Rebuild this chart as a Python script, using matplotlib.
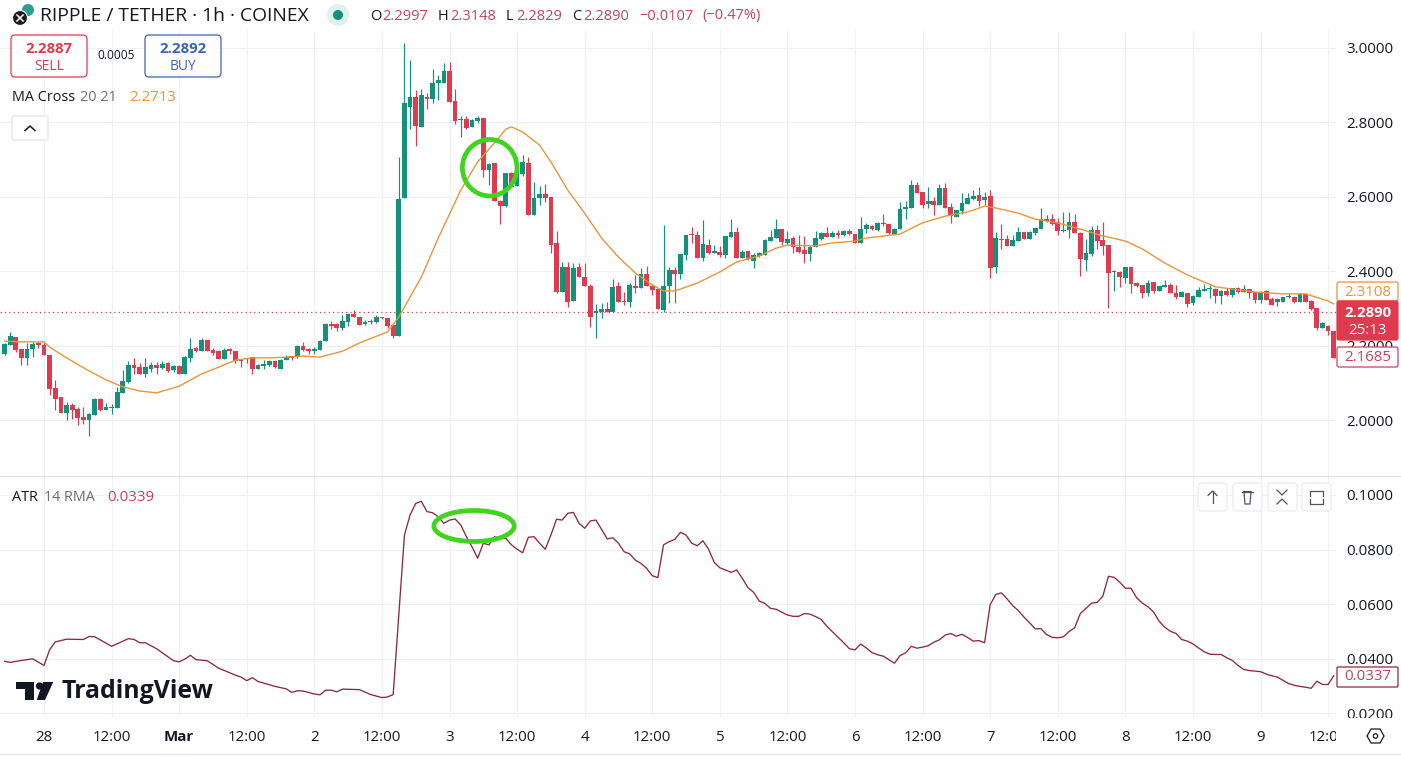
#!/usr/bin/env python3
# XRP/USDT 1h chart with MA and ATR panes, TradingView style
import numpy as np
import matplotlib
matplotlib.use("Agg")
import matplotlib.pyplot as plt
from matplotlib.patches import Circle, Ellipse, FancyBboxPatch, Polygon, Rectangle

plt.rcParams["font.family"] = ["Open Sans", "DejaVu Sans"]

# ---- data ----
# hour 0 is 28 Feb 00:00
first_hour = -7
opens = [
    2.177,2.202,2.222,2.192,2.168,2.192,2.206,2.202,2.175,2.085,
    2.061,2.020,2.040,2.030,2.007,1.999,2.013,2.056,2.027,2.031,
    2.033,2.073,2.101,2.148,2.142,2.125,2.137,2.148,2.139,2.152,
    2.134,2.145,2.124,2.166,2.194,2.186,2.215,2.188,2.186,2.164,
    2.190,2.186,2.161,2.164,2.170,2.137,2.146,2.148,2.159,2.137,
    2.160,2.170,2.170,2.199,2.190,2.186,2.188,2.213,2.258,2.258,
    2.246,2.264,2.285,2.276,2.257,2.264,2.264,2.276,2.273,2.255,
    2.226,2.596,2.842,2.867,2.787,2.867,2.862,2.905,2.907,2.938,
    2.858,2.806,2.809,2.787,2.805,2.811,2.672,2.692,2.590,2.574,
    2.663,2.629,2.661,2.690,2.551,2.596,2.608,2.599,2.475,2.345,
    2.410,2.321,2.410,2.385,2.361,2.287,2.290,2.298,2.291,2.360,
    2.321,2.318,2.361,2.354,2.392,2.360,2.351,2.296,2.360,2.403,
    2.392,2.444,2.499,2.497,2.435,2.470,2.450,2.451,2.444,2.493,
    2.505,2.436,2.454,2.428,2.441,2.444,2.482,2.488,2.513,2.477,
    2.488,2.466,2.457,2.446,2.464,2.487,2.502,2.493,2.504,2.498,
    2.508,2.499,2.475,2.513,2.522,2.511,2.529,2.526,2.501,2.513,
    2.566,2.570,2.632,2.612,2.580,2.590,2.579,2.623,2.572,2.547,
    2.563,2.581,2.594,2.605,2.591,2.602,2.410,2.486,2.486,2.469,
    2.482,2.505,2.486,2.504,2.514,2.536,2.540,2.531,2.508,2.511,
    2.531,2.504,2.430,2.446,2.511,2.484,2.470,2.398,2.398,2.383,
    2.410,2.367,2.363,2.342,2.370,2.348,2.358,2.363,2.342,2.332,
    2.341,2.314,2.332,2.348,2.352,2.352,2.333,2.347,2.335,2.354,
    2.345,2.351,2.345,2.323,2.347,2.325,2.316,2.318,2.330,2.332,
    2.318,2.338,2.320,2.300,2.248,2.254,2.240,
]
highs = [
    2.206,2.237,2.222,2.192,2.206,2.211,2.211,2.206,2.175,2.108,
    2.061,2.049,2.047,2.036,2.036,2.018,2.058,2.058,2.047,2.043,
    2.088,2.134,2.159,2.166,2.152,2.166,2.157,2.157,2.159,2.157,
    2.148,2.148,2.172,2.221,2.197,2.220,2.215,2.193,2.188,2.193,
    2.194,2.186,2.163,2.168,2.170,2.150,2.161,2.161,2.161,2.163,
    2.175,2.172,2.202,2.209,2.194,2.197,2.215,2.262,2.267,2.260,
    2.282,2.287,2.297,2.278,2.269,2.271,2.282,2.278,2.273,2.255,
    2.708,3.013,2.968,2.887,2.889,2.878,2.943,2.927,2.959,2.963,
    2.889,2.817,2.817,2.809,2.817,2.813,2.692,2.692,2.592,2.665,
    2.668,2.680,2.712,2.708,2.641,2.629,2.634,2.599,2.508,2.426,
    2.426,2.421,2.421,2.421,2.366,2.311,2.314,2.318,2.378,2.372,
    2.345,2.369,2.390,2.408,2.414,2.366,2.351,2.524,2.410,2.412,
    2.445,2.497,2.518,2.508,2.538,2.486,2.470,2.468,2.495,2.539,
    2.520,2.457,2.454,2.448,2.452,2.486,2.511,2.539,2.513,2.509,
    2.495,2.497,2.495,2.470,2.508,2.506,2.518,2.508,2.511,2.511,
    2.513,2.499,2.547,2.529,2.524,2.533,2.554,2.526,2.515,2.587,
    2.590,2.645,2.639,2.614,2.625,2.600,2.634,2.638,2.582,2.564,
    2.609,2.609,2.618,2.625,2.614,2.618,2.505,2.527,2.497,2.497,
    2.518,2.505,2.508,2.517,2.569,2.551,2.554,2.542,2.560,2.560,
    2.554,2.506,2.487,2.522,2.524,2.531,2.470,2.403,2.401,2.412,
    2.410,2.372,2.363,2.376,2.370,2.361,2.376,2.367,2.363,2.347,
    2.341,2.336,2.358,2.365,2.363,2.354,2.349,2.354,2.356,2.357,
    2.363,2.353,2.345,2.347,2.349,2.332,2.327,2.332,2.342,2.333,
    2.341,2.341,2.323,2.302,2.264,2.255,2.240,
]
lows = [
    2.175,2.202,2.184,2.148,2.148,2.170,2.193,2.175,2.067,2.027,
    2.020,1.999,2.004,1.987,1.989,1.957,2.013,2.025,2.027,2.016,
    2.033,2.073,2.099,2.125,2.124,2.116,2.130,2.124,2.136,2.129,
    2.130,2.124,2.124,2.157,2.184,2.186,2.186,2.175,2.164,2.164,
    2.177,2.152,2.143,2.154,2.124,2.137,2.137,2.146,2.139,2.137,
    2.160,2.161,2.166,2.186,2.177,2.177,2.188,2.213,2.244,2.240,
    2.242,2.253,2.276,2.255,2.255,2.258,2.262,2.271,2.246,2.221,
    2.226,2.596,2.781,2.737,2.787,2.836,2.853,2.860,2.907,2.856,
    2.796,2.762,2.781,2.787,2.799,2.654,2.632,2.590,2.527,2.572,
    2.627,2.629,2.657,2.551,2.551,2.578,2.587,2.450,2.341,2.345,
    2.305,2.321,2.385,2.361,2.251,2.220,2.273,2.290,2.291,2.318,
    2.309,2.305,2.341,2.354,2.360,2.336,2.298,2.291,2.315,2.315,
    2.378,2.430,2.477,2.435,2.428,2.446,2.448,2.439,2.435,2.493,
    2.436,2.435,2.430,2.409,2.437,2.444,2.482,2.488,2.470,2.470,
    2.450,2.450,2.423,2.428,2.464,2.484,2.491,2.491,2.489,2.495,
    2.497,2.475,2.475,2.502,2.511,2.509,2.521,2.500,2.501,2.513,
    2.539,2.570,2.609,2.569,2.569,2.551,2.579,2.569,2.529,2.547,
    2.554,2.581,2.591,2.576,2.578,2.381,2.394,2.459,2.469,2.469,
    2.482,2.486,2.486,2.496,2.514,2.533,2.524,2.497,2.506,2.488,
    2.502,2.388,2.401,2.441,2.459,2.444,2.302,2.347,2.358,2.367,
    2.341,2.358,2.327,2.334,2.341,2.347,2.357,2.341,2.324,2.330,
    2.305,2.309,2.330,2.347,2.327,2.314,2.312,2.333,2.332,2.342,
    2.343,2.327,2.315,2.314,2.323,2.308,2.306,2.316,2.327,2.314,
    2.318,2.318,2.296,2.242,2.246,2.228,2.166,
]
closes = [
    2.204,2.226,2.188,2.168,2.192,2.204,2.202,2.175,2.083,2.056,
    2.020,2.040,2.027,2.006,1.999,2.016,2.056,2.027,2.034,2.036,
    2.074,2.105,2.148,2.141,2.125,2.142,2.148,2.139,2.151,2.133,
    2.145,2.124,2.170,2.190,2.186,2.215,2.186,2.181,2.164,2.188,
    2.186,2.159,2.158,2.167,2.137,2.148,2.151,2.159,2.142,2.161,
    2.170,2.168,2.199,2.188,2.186,2.190,2.213,2.258,2.253,2.246,
    2.266,2.285,2.276,2.255,2.264,2.267,2.278,2.273,2.253,2.226,
    2.594,2.851,2.867,2.789,2.874,2.862,2.905,2.914,2.938,2.856,
    2.805,2.808,2.784,2.806,2.811,2.672,2.688,2.590,2.574,2.663,
    2.627,2.677,2.693,2.551,2.596,2.608,2.598,2.470,2.343,2.410,
    2.318,2.408,2.385,2.361,2.278,2.293,2.298,2.290,2.358,2.318,
    2.318,2.363,2.356,2.392,2.360,2.350,2.298,2.361,2.403,2.393,
    2.445,2.497,2.497,2.436,2.473,2.448,2.454,2.444,2.495,2.505,
    2.436,2.451,2.432,2.444,2.448,2.484,2.491,2.513,2.479,2.487,
    2.466,2.452,2.446,2.466,2.488,2.504,2.493,2.502,2.498,2.508,
    2.499,2.475,2.513,2.524,2.513,2.530,2.526,2.502,2.513,2.566,
    2.572,2.632,2.609,2.578,2.590,2.579,2.623,2.569,2.548,2.564,
    2.582,2.596,2.602,2.590,2.599,2.409,2.488,2.483,2.469,2.484,
    2.505,2.486,2.505,2.515,2.539,2.539,2.527,2.509,2.511,2.531,
    2.502,2.433,2.448,2.511,2.482,2.469,2.396,2.401,2.384,2.410,
    2.366,2.361,2.342,2.367,2.347,2.360,2.363,2.341,2.330,2.345,
    2.312,2.334,2.349,2.349,2.354,2.333,2.347,2.335,2.354,2.345,
    2.351,2.342,2.323,2.345,2.323,2.310,2.325,2.330,2.334,2.318,
    2.338,2.318,2.298,2.246,2.260,2.238,2.168,
]

ma_hours = [-7,-4,0,1,4,8,11,14,17,20,24,28,31,34,37,40,43,46,49,53,56,61,63,67,70,74,77,80,82,83,
            85,88,90,93,96,99,102,105,108,110,112,116,120,123,127,130,132,137,140,144,146,152,156,
            160,164,167,169,173,176,180,184,188,192,195,199,203,208,211,215,220,224,228,229]
ma_values = [2.212,2.210,2.210,2.196,2.167,2.132,2.108,2.089,2.078,2.073,2.091,2.124,2.142,2.161,
             2.167,2.167,2.169,2.172,2.169,2.185,2.207,2.237,2.277,2.384,2.489,2.618,2.694,2.745,
             2.782,2.788,2.774,2.739,2.694,2.618,2.556,2.489,2.438,2.395,2.363,2.347,2.347,2.368,
             2.398,2.425,2.441,2.462,2.470,2.468,2.476,2.481,2.489,2.500,2.530,2.548,2.559,2.575,
             2.570,2.556,2.540,2.530,2.513,2.495,2.481,2.460,2.422,2.390,2.358,2.352,2.344,2.339,
             2.339,2.320,2.312]

atr_hours = [-7,-6,-4,-2,0,1,2,4,7,8,9,12,15,16,17,18,20,23,24,25,26,27,29,31,34,35,36,37,38,41,
             43,44,45,46,48,49,50,51,52,53,56,58,60,61,62] + list(range(64, 230))
atr_values = [
    .0390,.0386,.0393,.0399,.0375,.0432,.0461,.0471,.0470,.0481,.0480,.0445,.0473,.0470,.0458,
    .0458,.0436,.0392,.0388,.0398,.0412,.0396,.0392,.0365,.0339,.0332,.0319,.0330,.0316,.0298,
    .0289,.0276,.0282,.0281,.0270,.0267,.0284,.0284,.0278,.0288,.0286,.0268,.0257,.0259,.0268,
    .0853,.0927,.0969,.0977,.0939,.0935,.0920,.0896,.0908,.0912,
    .0890,.0847,.0810,.0768,.0823,.0817,.0847,.0841,.0841,.0817,
    .0801,.0788,.0845,.0847,.0823,.0801,.0853,.0911,.0908,.0933,
    .0936,.0896,.0878,.0905,.0908,.0874,.0839,.0843,.0823,.0792,
    .0784,.0761,.0749,.0731,.0704,.0697,.0817,.0829,.0837,.0863,
    .0853,.0823,.0814,.0832,.0801,.0753,.0733,.0725,.0716,.0725,
    .0694,.0660,.0643,.0611,.0602,.0584,.0581,.0570,.0560,.0555,
    .0555,.0565,.0563,.0554,.0543,.0519,.0498,.0478,.0458,.0436,
    .0432,.0453,.0439,.0422,.0414,.0409,.0396,.0383,.0411,.0421,
    .0445,.0438,.0442,.0447,.0460,.0469,.0486,.0492,.0482,.0489,
    .0477,.0464,.0466,.0458,.0598,.0635,.0641,.0619,.0594,.0576,
    .0552,.0531,.0509,.0510,.0488,.0478,.0476,.0480,.0499,.0513,
    .0565,.0584,.0603,.0606,.0629,.0702,.0698,.0680,.0658,.0658,
    .0623,.0604,.0590,.0571,.0537,.0515,.0500,.0492,.0470,.0464,
    .0454,.0439,.0425,.0416,.0415,.0415,.0403,.0393,.0375,.0360,
    .0356,.0354,.0352,.0343,.0337,.0332,.0320,.0308,.0302,.0298,
    .0295,.0291,.0317,.0305,.0305,.0337,
]

date_hours = list(range(0, 229, 12))
date_labels = ["28","12:00","Mar","12:00","2","12:00","3","12:00","4","12:00",
               "5","12:00","6","12:00","7","12:00","8","12:00","9","12:00"]
price_ticks = [2.0, 2.2, 2.4, 2.6, 2.8, 3.0]
atr_ticks = [0.02, 0.04, 0.06, 0.08, 0.10]
last_price = 2.2890

# ---- colours ----
GREEN = "#12917b"
RED = "#e03a4e"
ORANGE = "#e8953c"
ATR_RED = "#8c2a3a"
GRID = "#eff0f3"
INK = "#131722"
GREY = "#6a6d78"
SOFT_RED = "#c0455a"

W, H = 1401, 757
fig = plt.figure(figsize=(W / 100, H / 100), dpi=100, facecolor="white")


def pane(top, bottom):
    ax = fig.add_axes([0, 1 - bottom / H, 1336 / W, (bottom - top) / H])
    ax.set_xlim(-7.81, 229.4)
    for s in ax.spines.values():
        s.set_visible(False)
    ax.yaxis.tick_right()
    ax.tick_params(length=0, labelsize=10.8, labelcolor=INK, pad=7.5)
    ax.grid(True, color=GRID, linewidth=0.8)
    ax.set_axisbelow(True)
    ax.set_xticks(date_hours)
    return ax


# ---- price pane ----
ax1 = pane(0, 476)
ax1.set_ylim(1.8495, 3.129)
ax1.set_yticks(price_ticks, [f"{t:.4f}" for t in price_ticks])
ax1.tick_params(labelbottom=False)

hours = np.arange(first_hour, first_hour + len(opens))
o = np.array(opens)
c = np.array(closes)
colors = [GREEN if a >= b else RED for a, b in zip(c, o)]
ax1.axhline(last_price, color=RED, linewidth=0.9, linestyle=(0, (1, 2.5)), zorder=1)
ax1.vlines(hours, lows, highs, color=colors, linewidth=0.85, zorder=2)
ax1.bar(hours, np.maximum(np.abs(c - o), 0.003), bottom=np.minimum(o, c), width=0.84,
        color=colors, linewidth=0, zorder=3)
ax1.plot(ma_hours, ma_values, color=ORANGE, linewidth=1.0, zorder=4)

# ---- ATR pane ----
ax2 = pane(477, 718)
ax2.set_ylim(0.0182, 0.1066)
ax2.set_yticks(atr_ticks, [f"{t:.4f}" for t in atr_ticks])
ax2.set_xticklabels(date_labels)
ax2.tick_params(axis="x", pad=8.5)
ax2.get_xticklabels()[2].set_fontweight("bold")
ax2.plot(atr_hours, atr_values, color=ATR_RED, linewidth=0.95, zorder=3)

# ---- screen furniture, drawn in pixel coordinates ----
ov = fig.add_axes([0, 0, 1, 1], zorder=10)
ov.set_xlim(0, W)
ov.set_ylim(H, 0)
ov.axis("off")
ov.patch.set_alpha(0)


def box(x0, y0, x1, y1, edge, face="white", r=4, lw=0.9, z=5):
    ov.add_patch(FancyBboxPatch((x0 + r, y0 + r), x1 - x0 - 2 * r, y1 - y0 - 2 * r,
                                boxstyle=f"round,pad={r},rounding_size={r}",
                                ec=edge, fc=face, lw=lw, zorder=z))


def label(x, y, s, color=INK, size=10.8, ha="left", weight="normal", z=6):
    return ov.text(x, y, s, color=color, fontsize=size, ha=ha, va="center", fontweight=weight, zorder=z)


ov.add_patch(Rectangle((0, 0), 1336, 31, fc="white", ec="none", zorder=1))
ov.add_patch(Rectangle((1336, 718), 65, 39, fc="white", ec="none", zorder=1))
ov.plot([0, W], [476, 476], color="#e0e3eb", lw=0.9, zorder=2)
ov.plot([0, W], [753.5, 753.5], color="#e0e3eb", lw=0.9, zorder=2)

# header
ov.add_patch(Circle((28, 10), 6, fc="#2a9d8f", ec="none", zorder=3))
ov.add_patch(Circle((20, 18), 7.5, fc="#1e1e1e", ec="white", lw=0.8, zorder=4))
ov.plot([17, 23], [15, 21], color="white", lw=1.1, zorder=5)
ov.plot([17, 23], [21, 15], color="white", lw=1.1, zorder=5)
label(40, 16, "RIPPLE / TETHER · 1h · COINEX", size=13.85)
ov.add_patch(Circle((338, 15), 11, fc="#dff1ee", ec="none", zorder=3))
ov.add_patch(Circle((338, 15), 5, fc=GREEN, ec="none", zorder=4))
for x, s in [(370, "O"), (438, "H"), (506, "L"), (572, "C")]:
    label(x, 16, s, size=10.5)
for x, s in [(382, "2.2997"), (450, "2.3148"), (516, "2.2829"), (583, "2.2890"),
             (639, "−0.0107"), (702, "(−0.47%)")]:
    label(x, 16, s, color=SOFT_RED, size=10.5)

# buy / sell
box(11, 35, 87, 77, RED)
label(49, 49, "2.2887", color=RED, ha="center", weight="bold", size=10.8)
label(49, 66, "SELL", color=RED, ha="center", size=10)
box(145, 35, 221, 77, "#3d62b8")
label(183, 49, "2.2892", color="#3d62b8", ha="center", weight="bold", size=10.8)
label(183, 66, "BUY", color="#3d62b8", ha="center", size=10)
label(116, 55.5, "0.0005", ha="center", size=8.6)

# legends
label(12, 97.5, "MA Cross", size=10.4)
label(80, 97.5, "20 21", color=GREY, size=10.4)
label(129, 97.5, "2.2713", color=ORANGE, size=10.8)
box(12, 116, 48, 140, "#e0e3eb", r=2)
ov.plot([25, 30, 35], [130.5, 126, 130.5], color=INK, lw=1.1, zorder=6)
label(12, 497.5, "ATR", size=10.4)
label(44, 497.5, "14 RMA", color=GREY, size=10.4)
label(107, 497.5, "0.0339", color=SOFT_RED, size=10.8)

# hand drawn marks
ov.add_patch(Ellipse((489.7, 167.7), 54.6, 56.5, fc="none", ec="#3fd41f", lw=3.4, zorder=5))
ov.add_patch(Ellipse((474, 526), 80.3, 31, fc="none", ec="#3fd41f", lw=3.4, zorder=5))

# price scale tags
box(1337, 282, 1398, 301, ORANGE, r=2)
label(1367.5, 292, "2.3108", color=ORANGE, ha="center")
box(1337, 301, 1398, 340, RED, face=RED, r=2, z=6)
label(1367.5, 313, "2.2890", color="white", ha="center", weight="bold", z=7)
label(1367.5, 331, "25:13", color="white", ha="center", z=7)
box(1337, 347, 1398, 367, SOFT_RED, r=2)
label(1367.5, 357.5, "2.1685", color=SOFT_RED, ha="center")
box(1337, 667, 1398, 687, ATR_RED, r=1)
label(1367.5, 677, "0.0337", color=SOFT_RED, ha="center")

# pane buttons
for x0 in [1198, 1233, 1268, 1302]:
    box(x0, 483, x0 + 29, 511, "#e8e9ee", r=3, lw=0.8)
ov.plot([1212.5, 1212.5], [491, 503], color="#50535e", lw=0.9, zorder=6)
ov.plot([1208, 1212.5, 1217], [495.5, 491, 495.5], color="#50535e", lw=0.9, zorder=6)
ov.plot([1242, 1253], [491.5, 491.5], color="#50535e", lw=0.9, zorder=6)
ov.plot([1244, 1245, 1250, 1251, 1244], [491.5, 504, 504, 491.5, 491.5], color="#50535e", lw=0.9, zorder=6)
ov.plot([1277, 1282, 1287], [490, 495, 490], color="#50535e", lw=0.9, zorder=6)
ov.plot([1277, 1282, 1287], [504, 499, 504], color="#50535e", lw=0.9, zorder=6)
ov.plot([1310, 1310, 1323, 1323], [496, 491, 491, 496], color="#50535e", lw=0.9, zorder=6)
ov.plot([1310, 1310, 1323, 1323], [499, 504, 504, 499], color="#50535e", lw=0.9, zorder=6)

# settings hexagon
ov.add_patch(Polygon([(1367, 736), (1371, 729), (1380, 729), (1384, 736), (1380, 743), (1371, 743)],
                     closed=True, fc="none", ec=INK, lw=0.9, zorder=6))
ov.add_patch(Circle((1375.5, 736), 2.2, fc="none", ec=INK, lw=0.9, zorder=6))

# TradingView mark
ov.add_patch(Polygon([(16, 682), (34, 682), (34, 700), (25, 700), (25, 689), (16, 689)],
                     closed=True, fc="#131722", ec="none", zorder=6))
ov.add_patch(Circle((39.5, 686), 3.6, fc="#131722", ec="none", zorder=6))
ov.add_patch(Polygon([(43, 682), (53.3, 682), (45, 700), (36.7, 700)],
                     closed=True, fc="#131722", ec="none", zorder=6))
label(62, 692, "TradingView", size=17.9, weight="bold", color="#131722")

fig.savefig("out.png", dpi=100)
